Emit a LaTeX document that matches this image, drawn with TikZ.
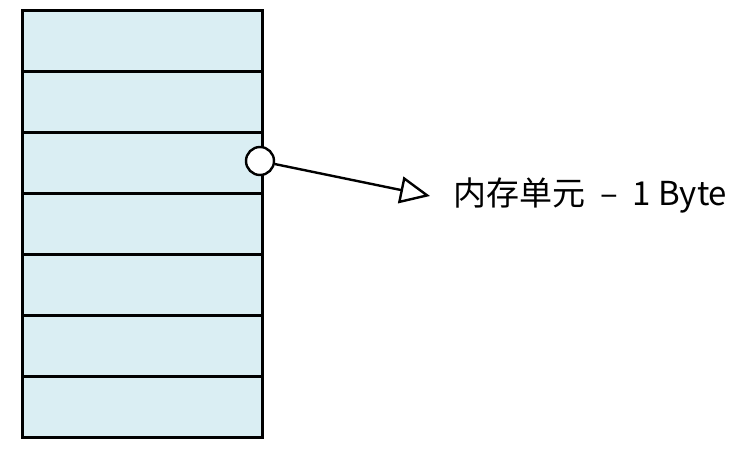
\documentclass[tikz,border=0pt]{standalone}
\usepackage{fontspec}
\setmainfont{Noto Sans CJK SC}
\usetikzlibrary{arrows.meta}
\definecolor{cellfill}{HTML}{DAEEF3}
\begin{document}
\begin{tikzpicture}[x=1pt,y=-1pt,
  cell/.style={draw=black,line width=3pt,fill=cellfill,minimum width=240pt,minimum height=61pt,inner sep=0pt,anchor=north west},
  pin/.style={circle,draw=black,line width=2.4pt,fill=white,minimum size=28pt,inner sep=0pt},
  link/.style={line width=2.4pt,-{Triangle[open,length=30pt,width=27pt,line width=2.4pt]}}]
\useasboundingbox (0,0) rectangle (742,449);
\foreach \i in {0,...,6} {
  \node[cell] (c\i) at (20.5,{9+61*\i}) {};
}
\node[pin] (p) at (260,161) {};
\coordinate (tip) at (430,196);
\node[anchor=base west,font=\fontsize{33}{35}\selectfont,inner sep=0pt] (t) at (453,206) {内存单元\hspace{15pt}–\hspace{15pt}1 Byte};
\draw[link] (p) -- (tip);
\end{tikzpicture}
\end{document}
